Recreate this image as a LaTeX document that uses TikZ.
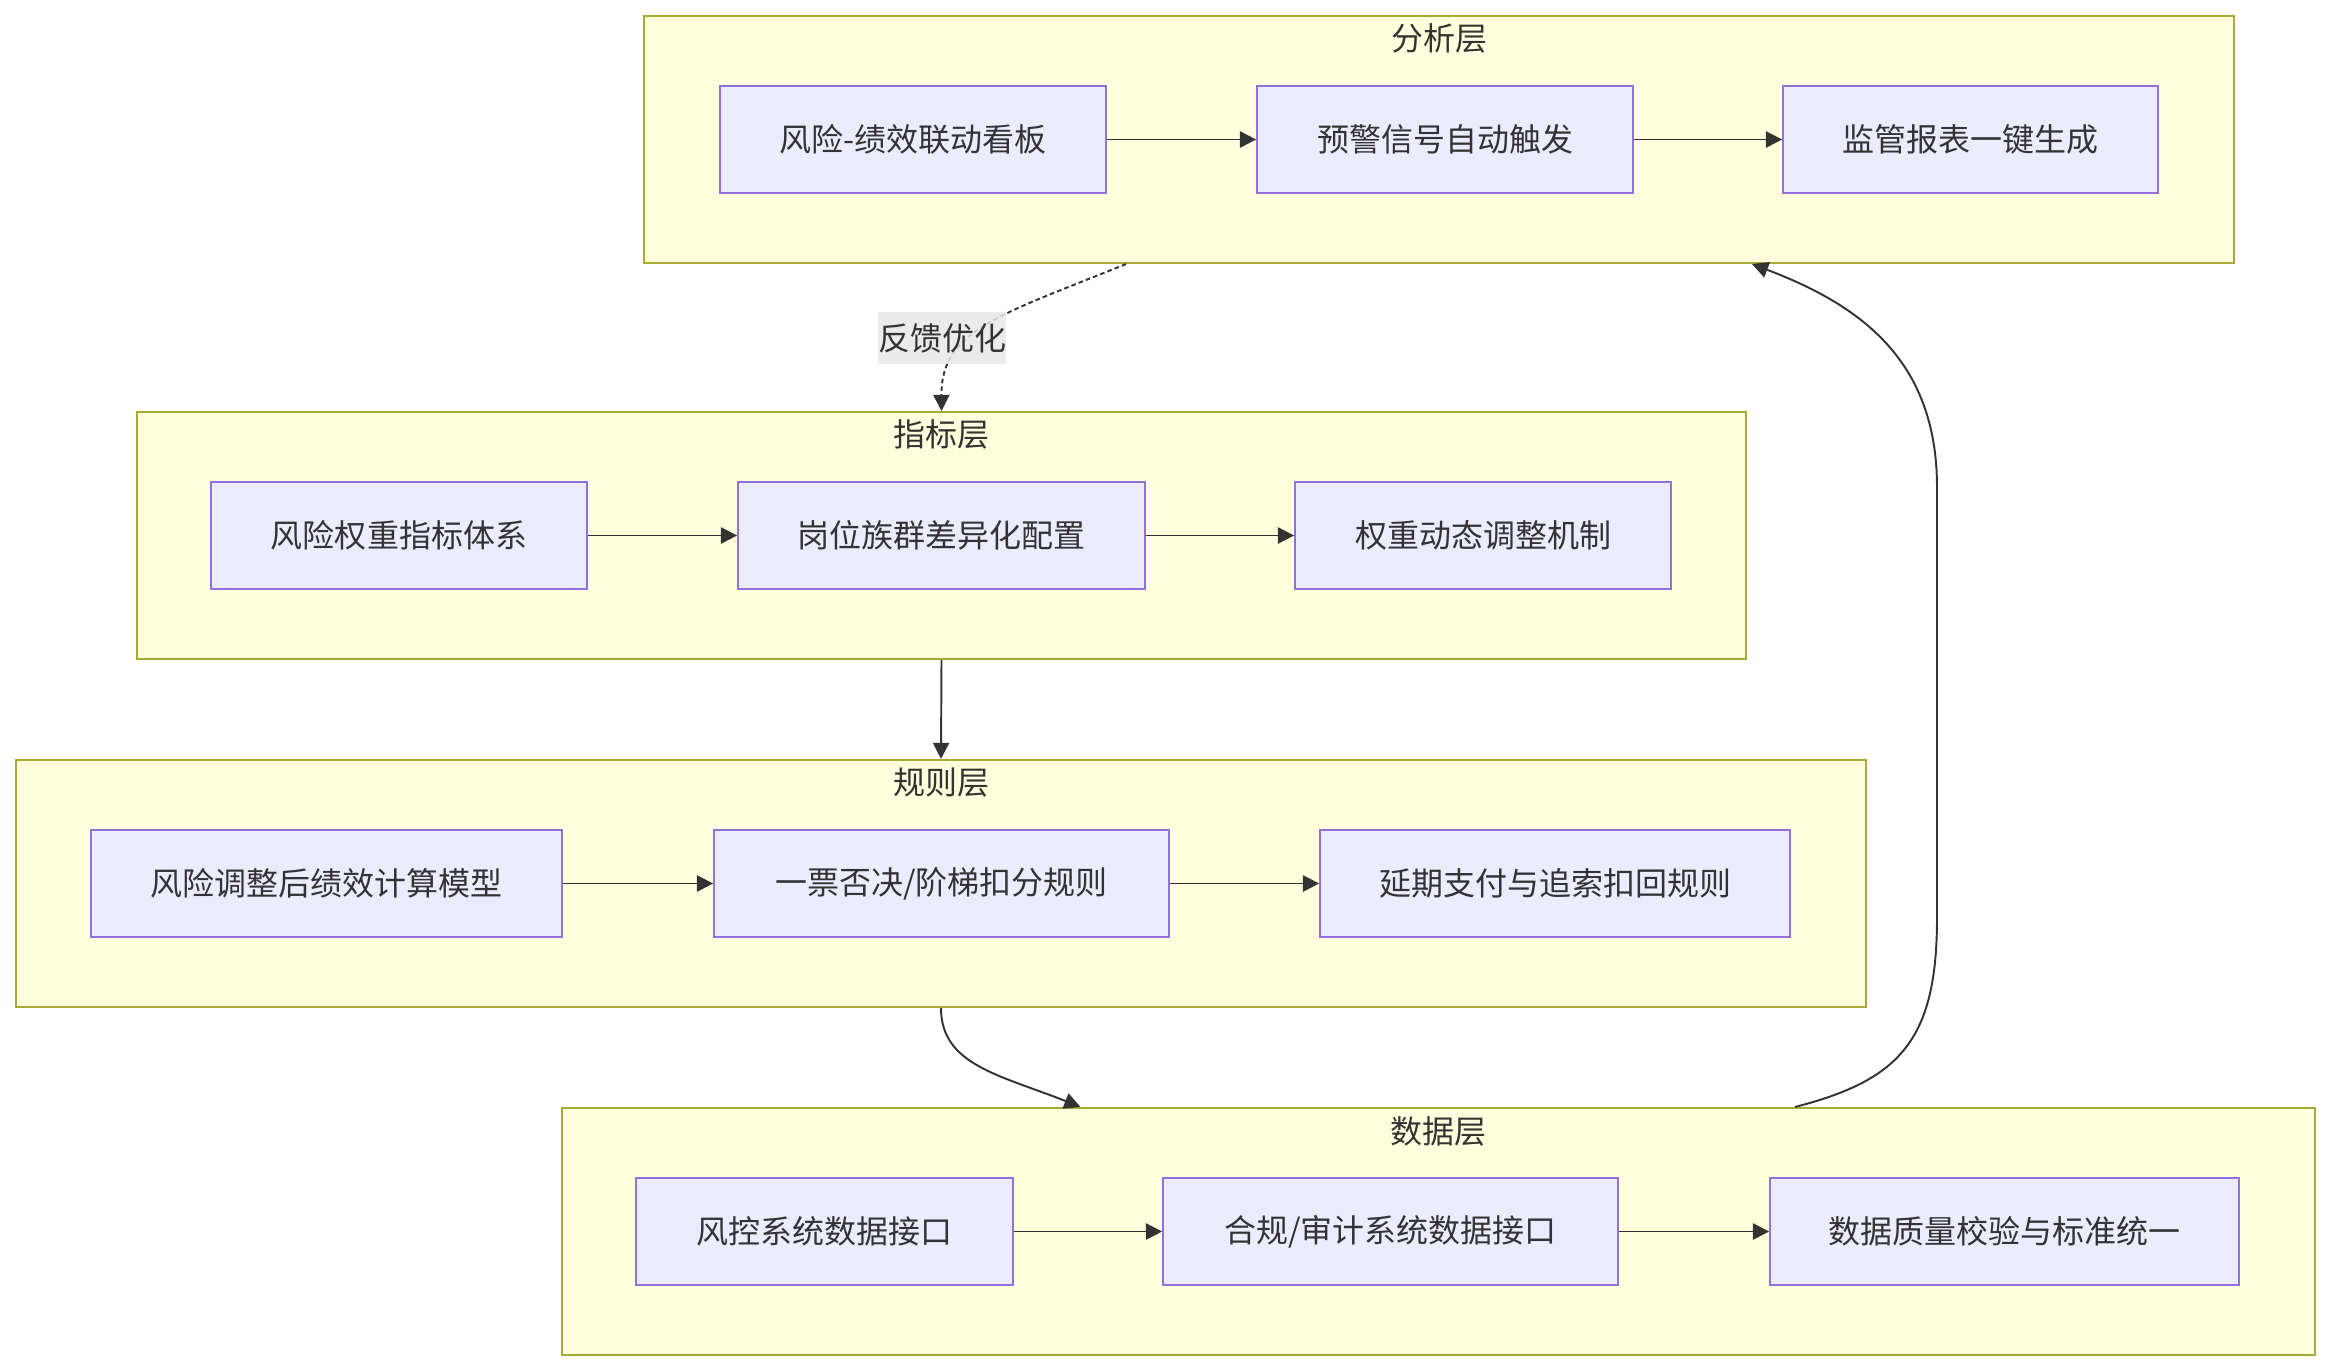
\documentclass[tikz,border=0pt]{standalone}
\usepackage{fontspec}
\setmainfont{Noto Sans CJK SC}
\usetikzlibrary{arrows.meta,calc,positioning}
\definecolor{LayerFill}{HTML}{FFFFDE}
\definecolor{LayerLine}{HTML}{AAAA33}
\definecolor{BoxFill}{HTML}{ECECFF}
\definecolor{BoxLine}{HTML}{9370DB}
\definecolor{EdgeGray}{HTML}{333333}
\definecolor{LabelGray}{HTML}{E8E8E8}

\begin{document}
\begin{tikzpicture}[x=0.01cm,y=-0.01cm,>={Triangle[length=4.6pt,width=4.6pt]},
    font=\fontsize{9.1pt}{11pt}\selectfont,text=EdgeGray,
    layer/.style={draw=LayerLine,fill=LayerFill,line width=0.55pt,inner sep=0pt,minimum height=2.47cm},
    procbox/.style={draw=BoxLine,fill=BoxFill,line width=0.5pt,inner sep=0pt,minimum height=1.07cm},
    flow/.style={->,draw=EdgeGray,line width=0.55pt}]
  \useasboundingbox (0,0) rectangle (2332,1372);
  % 四个层
  \foreach \nm/\x/\y/\w/\ttl in {A/1439/139.5/1590/分析层,B/941.5/535.5/1609/指标层,C/941/883.5/1850/规则层,D/1438.5/1231.5/1753/数据层}{
    \node[layer,minimum width=\w*0.01cm] (\nm) at (\x,\y) {};
    \node (\nm-title) at ($(\nm.north)+(0,24)$) {\ttl};}
  % 各层内的步骤
  \foreach \nm/\x/\y/\w/\txt in {A1/913/139.5/386/{风险-绩效联动看板},A2/1445/139.5/376/{预警信号自动触发},A3/1970.5/139.5/375/{监管报表一键生成},
      B1/399/535.5/376/{风险权重指标体系},B2/941.5/535.5/407/{岗位族群差异化配置},B3/1483/535.5/376/{权重动态调整机制},
      C1/326.5/883.5/471/{风险调整后绩效计算模型},C2/941.5/883.5/455/{一票否决/阶梯扣分规则},C3/1555/883.5/470/{延期支付与追索扣回规则},
      D1/824.5/1231.5/377/{风控系统数据接口},D2/1390.5/1231.5/455/{合规/审计系统数据接口},D3/2004.5/1231.5/469/{数据质量校验与标准统一}}{
    \node[procbox,minimum width=\w*0.01cm] (\nm) at (\x,\y) {\txt};}
  \foreach \p/\q in {A1/A2,A2/A3,B1/B2,B2/B3,C1/C2,C2/C3,D1/D2,D2/D3}
    \draw[flow] (\p) -- (\q);
  % 层与层之间
  \draw[flow,dash pattern=on 1.3pt off 0.9pt] ($(A.south)+(-313,0)$) .. controls (1000,315) and (941,330) .. (B.north);
  \node[fill=LabelGray,fill opacity=0.85,text opacity=1,inner xsep=0pt,minimum height=0.48cm] (fbLabel) at (942,338) {反馈优化};
  \draw[flow] (B.south) -- (C.north);
  \draw[flow] (C.south) .. controls (941,1065) and (1000,1075) .. ($(D.north)+(-358,0)$);
  \draw[flow] ($(D.north)+(356.5,0)$) .. controls (1900,1080) and (1937,1040) .. (1937,918)
    -- (1937,487) .. controls (1937,360) and (1860,305) .. ($(A.south)+(313,0)$);
\end{tikzpicture}
\end{document}
